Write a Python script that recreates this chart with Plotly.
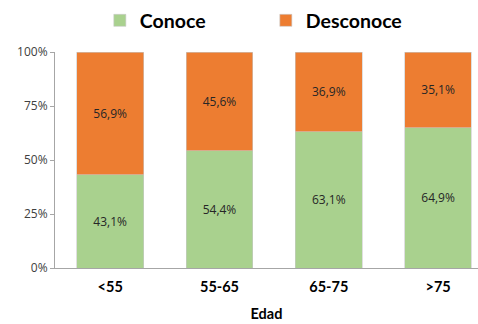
import plotly.graph_objects as go

categories = ["<55", "55-65", "65-75", ">75"]
conoce = [43.1, 54.4, 63.1, 64.9]
desconoce = [56.9, 45.6, 36.9, 35.1]
y_ticks = [0, 25, 50, 75, 100]
y_tick_labels = ["0%", "25%", "50%", "75%", "100%"]

def fmt(v):
    return f"{v:.1f}%".replace(".", ",")

fig = go.Figure()
fig.add_trace(go.Bar(
    x=categories, y=conoce, name="Conoce",
    marker=dict(color="#a9d18e", line=dict(color="#c9c9c9", width=0.6)),
    text=[fmt(v) for v in conoce], textposition="inside", insidetextanchor="middle",
    textfont=dict(family="Open Sans", size=12, color="#262626"),
    hoverinfo="skip",
))
fig.add_trace(go.Bar(
    x=categories, y=desconoce, name="Desconoce",
    marker=dict(color="#ed7d31", line=dict(color="#c9c9c9", width=0.6)),
    text=[fmt(v) for v in desconoce], textposition="inside", insidetextanchor="middle",
    textfont=dict(family="Open Sans", size=12, color="#262626"),
    hoverinfo="skip",
))

fig.update_layout(
    width=478, height=324,
    barmode="stack", bargap=0.39,
    margin=dict(l=55, r=0, t=52, b=56),
    plot_bgcolor="white", paper_bgcolor="white",
    font=dict(family="Lato", color="#000000"),
    showlegend=True,
    legend=dict(
        orientation="h", x=0.106, xanchor="left", y=1.145, yanchor="middle",
        font=dict(family="Lato", size=19.5, color="#000000", weight="bold"),
        entrywidth=121, traceorder="normal", itemclick=False,
    ),
    xaxis=dict(
        range=[-0.505, 3.365],
        showline=True, linecolor="#a6a6a6", linewidth=1,
        ticks="", showgrid=False, ticklabelstandoff=6,
        tickfont=dict(family="Lato", size=14.5, color="#000000", weight="bold"),
        title=dict(text="Edad", font=dict(family="Lato", size=14.5, color="#000000", weight="bold"), standoff=14),
    ),
    yaxis=dict(
        range=[0, 100], tickvals=y_ticks, ticktext=y_tick_labels,
        showline=True, linecolor="#a6a6a6", linewidth=1,
        ticks="outside", ticklen=4, tickcolor="#a6a6a6",
        showgrid=False, zeroline=False,
        tickfont=dict(family="Open Sans", size=12, color="#404040"),
    ),
)

fig.write_html("out.html")
